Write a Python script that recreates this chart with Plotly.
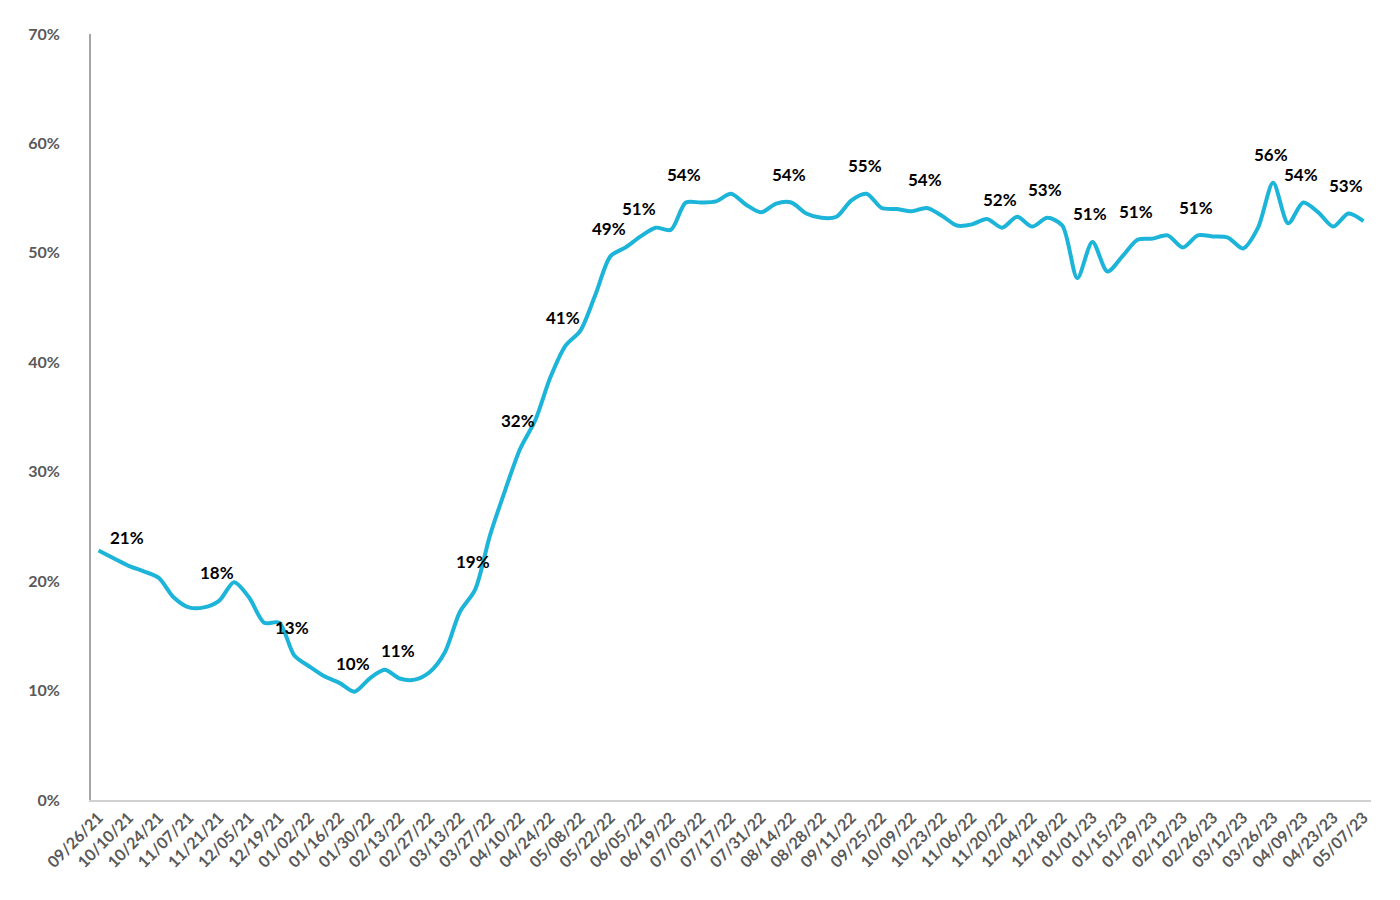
import pandas as pd
import plotly.graph_objects as go

# weekly share, 09/26/21 .. 05/07/23
weeks = pd.date_range("2021-09-26", "2023-05-07", freq="7D").strftime("%m/%d/%y").tolist()

share = [
    22.8, 22.1, 21.4, 20.9, 20.3, 18.5, 17.6, 17.6, 18.2, 19.9,
    18.5, 16.2, 16.2, 13.2, 12.2, 11.3, 10.7, 9.9, 11.1, 11.9,
    11.1, 11.0, 11.7, 13.5, 17.2, 19.2, 24.2, 28.3, 32.1, 34.7,
    38.6, 41.5, 42.9, 46.2, 49.7, 50.5, 51.5, 52.3, 52.1, 54.6,
    54.6, 54.7, 55.4, 54.4, 53.7, 54.5, 54.6, 53.6, 53.2, 53.3,
    54.8, 55.4, 54.1, 54.0, 53.8, 54.1, 53.4, 52.5, 52.6, 53.1,
    52.3, 53.3, 52.4, 53.2, 52.5, 47.7, 51.0, 48.3, 49.7, 51.2,
    51.3, 51.6, 50.5, 51.6, 51.5, 51.4, 50.4, 52.3, 56.4, 52.7,
    54.6, 53.7, 52.4, 53.6, 52.9,
]

# data labels: week index -> text
label_idx = [2, 8, 13, 17, 20, 25, 28, 31, 34, 36, 39, 46, 51, 55, 60, 63, 66, 69, 73, 78, 80, 83]
label_txt = ["21%", "18%", "13%", "10%", "11%", "19%", "32%", "41%", "49%", "51%", "54%",
             "54%", "55%", "54%", "52%", "53%", "51%", "51%", "51%", "56%", "54%", "53%"]

y_ticks = [0, 0.1, 0.2, 0.3, 0.4, 0.5, 0.6, 0.7]

FONT = "Lato, 'Open Sans', sans-serif"

fig = go.Figure()
fig.add_trace(go.Scatter(
    x=weeks, y=[v / 100 for v in share], mode="lines",
    line=dict(color="#1CB4D8", width=4, shape="spline", smoothing=0.8),
    hoverinfo="skip", showlegend=False))

for i, t in zip(label_idx, label_txt):
    fig.add_annotation(x=weeks[i], y=share[i] / 100, text="<b>%s</b>" % t,
                       showarrow=False, yshift=28, xshift=-2,
                       font=dict(family=FONT, size=17, color="#000000"))

# page body adds 8px, margins compensate
fig.update_layout(
    width=1400, height=900,
    margin=dict(l=83, r=37, t=26, b=108),
    paper_bgcolor="white", plot_bgcolor="white",
    font=dict(family=FONT),
)
fig.update_xaxes(
    type="category", tickvals=weeks[::2], ticktext=["<b>%s</b>" % w for w in weeks[::2]],
    tickangle=-45, tickfont=dict(size=16, color="#595959"),
    showgrid=False, showline=True, linecolor="#d0d0d0", linewidth=2,
    ticks="", range=[-0.5, len(weeks) - 0.5])
fig.update_yaxes(
    range=[0, 0.7], tickvals=y_ticks, ticktext=["<b>%d%%</b>" % round(v * 100) for v in y_ticks],
    tickfont=dict(size=16, color="#595959"), ticklabelstandoff=26,
    showgrid=False, zeroline=False, showline=True, linecolor="#a6a6a6", linewidth=2, ticks="")

fig.write_html("out.html")
